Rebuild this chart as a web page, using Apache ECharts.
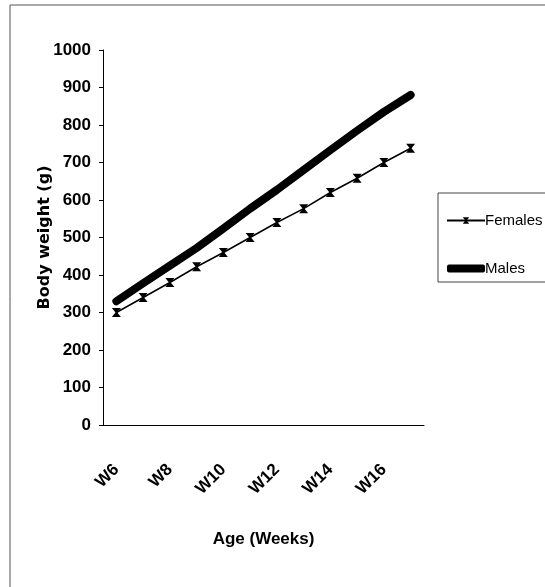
<!DOCTYPE html>
<html lang="en" style="height: 100%">
<head>
  <meta charset="utf-8">
</head>
<body style="height: 100%; margin: 0; background-color:#ffffff;">
  <div id="container" style="width: 545px; height: 587px"></div>

<script src="https://cdn.jsdelivr.net/npm/echarts@6/dist/echarts.min.js"></script>

<script>
  var dom = document.getElementById('container');
  var myChart = echarts.init(dom);

  var weeks = ['W6', 'W7', 'W8', 'W9', 'W10', 'W11', 'W12', 'W13', 'W14', 'W15', 'W16', 'W17'];
  var females = [300, 340, 380, 422, 460, 500, 540, 577, 620, 658, 700, 738];
  var males = [330, 378, 425, 472, 524, 577, 627, 680, 733, 785, 835, 880];
  var yTicks = [0, 1000, 100];   // min, max, step

  var font = "'Liberation Sans Narrow', 'Liberation Sans', Arial, sans-serif";
  // excel-style cross marker
  var crossMark = 'path://M0,0 L10,0 L6,5 L10,10 L0,10 L4,5 Z';

  var option = {
    animation: false,
    backgroundColor: '#fff',
    grid: { left: 103, right: 121, top: 50, bottom: 162 },
    legend: {
      orient: 'vertical',
      left: 441,
      top: 208,
      itemGap: 33,
      itemWidth: 38,
      itemHeight: 8,
      textStyle: { fontFamily: font, fontSize: 15, color: '#000', padding: [0, 0, 0, -5] },
      data: [
        { name: 'Females' },
        { name: 'Males', icon: 'roundRect' }
      ]
    },
    xAxis: {
      type: 'category',
      data: weeks,
      name: 'Age (Weeks)',
      nameLocation: 'middle',
      nameGap: 106,
      nameTextStyle: { fontFamily: font, fontSize: 17, fontWeight: 'bold', color: '#000' },
      axisLine: { lineStyle: { color: '#000', width: 1 } },
      axisTick: { interval: 0, length: 5, lineStyle: { color: '#000' } },
      axisLabel: {
        interval: 1,
        rotate: 45,
        margin: 42,
        fontFamily: font,
        fontSize: 17,
        fontWeight: 'bold',
        color: '#000'
      },
      splitLine: { show: false }
    },
    yAxis: {
      type: 'value',
      min: yTicks[0],
      max: yTicks[1],
      interval: yTicks[2],
      name: 'Body weight (g)',
      nameLocation: 'middle',
      nameGap: 50,
      nameMoveOverlap: false,
      nameTextStyle: { fontFamily: 'DejaVu Sans, sans-serif', fontSize: 16, fontWeight: 'bold', color: '#000' },
      axisLine: { show: true, lineStyle: { color: '#000', width: 1 } },
      axisTick: { show: true, length: 4, lineStyle: { color: '#000' } },
      axisLabel: {
        margin: 12,
        fontFamily: font,
        fontSize: 17,
        fontWeight: 'bold',
        color: '#000',
        formatter: function (v) { return String(v); }
      },
      splitLine: { show: false }
    },
    graphic: [
      {
        type: 'polyline',
        shape: { points: [[10, 600], [10, 5], [560, 5]] },
        style: { stroke: '#555', lineWidth: 1, fill: null }
      },
      {
        type: 'polyline',
        shape: { points: [[560, 193], [438, 193], [438, 282], [560, 282]] },
        style: { stroke: '#444', lineWidth: 1, fill: null }
      }
    ],
    series: [
      {
        name: 'Females',
        type: 'line',
        data: females,
        symbol: crossMark,
        symbolSize: 9,
        showAllSymbol: true,
        lineStyle: { color: '#000', width: 1.5 },
        itemStyle: { color: '#000' }
      },
      {
        name: 'Males',
        type: 'line',
        data: males,
        symbol: 'none',
        lineStyle: { color: '#000', width: 8, cap: 'round', join: 'round' },
        itemStyle: { color: '#000' }
      }
    ]
  };

  myChart.setOption(option);

  window.addEventListener('resize', myChart.resize);
</script>

</body>
</html>
